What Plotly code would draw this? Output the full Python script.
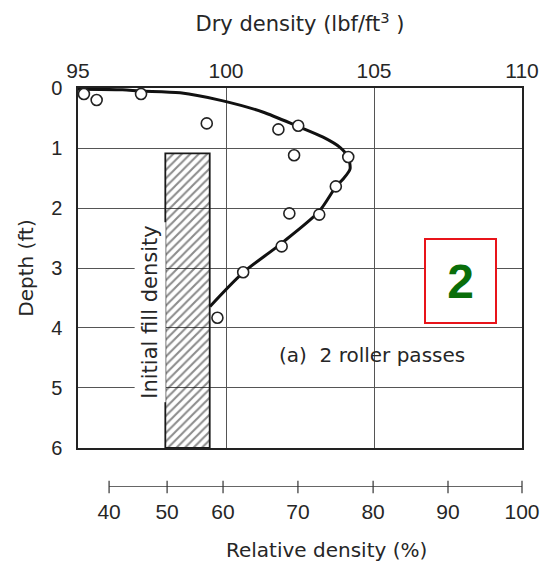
import plotly.graph_objects as go

# Field measurements: dry density (lbf/ft^3) against depth (ft)
meas_dry_density = [95.20, 95.63, 97.13, 99.35, 101.77, 102.44, 102.30,
                    104.13, 103.71, 102.14, 103.15, 101.88, 100.58, 99.71]
meas_depth = [0.10, 0.20, 0.10, 0.59, 0.69, 0.63, 1.12,
              1.15, 1.64, 2.09, 2.11, 2.64, 3.07, 3.83]

# Smoothed density profile after 2 roller passes
curve_dry_density = [95.0, 96.5, 97.1, 98.45, 99.86, 101.24, 102.43, 103.28,
                     103.85, 104.12, 104.19, 103.95, 103.72, 103.14, 101.82,
                     100.57, 99.46]
curve_depth = [0.02, 0.03, 0.05, 0.08, 0.21, 0.40, 0.64, 0.82,
               0.99, 1.15, 1.35, 1.52, 1.64, 2.06, 2.61, 3.08, 3.64]

# Initial fill density band (dry density range, depth range)
fill_dry_density = [97.95, 99.45]
fill_depth = [1.09, 6.0]

# Axis ticks
dry_density_ticks = [95, 100, 105, 110]
depth_ticks = [0, 1, 2, 3, 4, 5, 6]
rel_density_labels = [40, 50, 60, 70, 80, 90, 100]
# dry density equivalent of each relative density tick
rel_density_at_dry = [96.05, 98.01, 99.90, 102.43, 104.97, 107.50, 110.0]

INK = "#262626"
DIGITS = "Liberation Sans"
WORDS = "DejaVu Sans"

fig = go.Figure()

# hatched initial-fill band
fig.add_trace(go.Bar(
    x=[(fill_dry_density[0] + fill_dry_density[1]) / 2],
    y=[fill_depth[1] - fill_depth[0]],
    base=[fill_depth[0]],
    width=[fill_dry_density[1] - fill_dry_density[0]],
    marker=dict(color="rgba(0,0,0,0)",
                line=dict(color="#1a1a1a", width=1.8),
                pattern=dict(shape="/", fgcolor="#1a1a1a",
                             bgcolor="rgba(0,0,0,0)", size=6, solidity=0.35)),
    hoverinfo="skip",
))

# fitted profile
fig.add_trace(go.Scatter(
    x=curve_dry_density, y=curve_depth, mode="lines",
    line=dict(color="#111", width=3, shape="spline", smoothing=0.8),
    hoverinfo="skip",
))

# measured points
fig.add_trace(go.Scatter(
    x=meas_dry_density, y=meas_depth, mode="markers",
    marker=dict(symbol="circle", size=11, color="white",
                line=dict(color="#222", width=1.6)),
))

# relative density scale under the chart
fig.add_trace(go.Scatter(
    x=rel_density_at_dry, y=[0] * len(rel_density_at_dry),
    mode="lines+markers", xaxis="x2", yaxis="y2", cliponaxis=False,
    line=dict(color="#333", width=1.5),
    marker=dict(symbol="line-ns", size=9, color="#333",
                line=dict(color="#333", width=1.2)),
    hoverinfo="skip",
))

fig.update_layout(
    width=543, height=565,
    margin=dict(l=78, r=21, t=88, b=0, autoexpand=False),
    paper_bgcolor="white", plot_bgcolor="white",
    showlegend=False,
    xaxis=dict(
        domain=[0, 1], range=[95, 110], side="top", anchor="y",
        automargin=False,
        tickvals=dry_density_ticks, ticks="",
        showgrid=True, gridcolor="#555", gridwidth=1,
        showline=True, mirror=True, linecolor="#222", linewidth=1.5,
        zeroline=False,
        tickfont=dict(family=DIGITS, size=21, color=INK),
        title=dict(text="Dry density (lbf/ft<sup>3</sup> )",
                   font=dict(family=WORDS, size=21, color=INK), standoff=21),
    ),
    yaxis=dict(
        domain=[0.2453, 1], range=[6, 0], anchor="x",
        automargin=False,
        tickvals=depth_ticks, ticks="",
        showgrid=True, gridcolor="#555", gridwidth=1,
        showline=True, mirror=True, linecolor="#222", linewidth=1.5,
        zeroline=False, ticklabelstandoff=10,
        tickfont=dict(family=DIGITS, size=20, color=INK),
        title=dict(text="Depth (ft)",
                   font=dict(family=WORDS, size=20, color=INK), standoff=12),
    ),
    xaxis2=dict(
        domain=[0, 1], range=[95, 110], anchor="y2",
        automargin=False,
        tickvals=rel_density_at_dry, ticktext=[str(v) for v in rel_density_labels],
        ticks="", showgrid=False, showline=False, zeroline=False,
        ticklabelstandoff=10,
        tickfont=dict(family=DIGITS, size=21, color=INK),
    ),
    yaxis2=dict(domain=[0.1635, 0.1845], range=[0, 1], visible=False,
                automargin=False),
    annotations=[
        dict(text="Relative density (%)", xref="paper", yref="paper",
             x=(326 - 78) / 444, y=(565 - 550) / 477, xanchor="center",
             yanchor="middle", showarrow=False,
             font=dict(family=WORDS, size=20, color=INK)),
        dict(text="Initial fill density", xref="x", yref="y",
             x=97.43, y=3.73, textangle=-90, showarrow=False,
             bgcolor="white", borderpad=3,
             font=dict(family=WORDS, size=21, color=INK)),
        dict(text="(a)\u00a0 2 roller passes", xref="x", yref="y",
             x=104.93, y=4.45, showarrow=False,
             font=dict(family=WORDS, size=20, color=INK)),
        dict(text="<b>2</b>", xref="x", yref="y",
             x=107.92, y=3.21, showarrow=False,
             width=69, height=82, borderpad=0,
             bordercolor="#e8141a", borderwidth=2, bgcolor="white",
             font=dict(family=DIGITS, size=48, color="#0a6e0a")),
    ],
)

fig.write_html("out.html")
